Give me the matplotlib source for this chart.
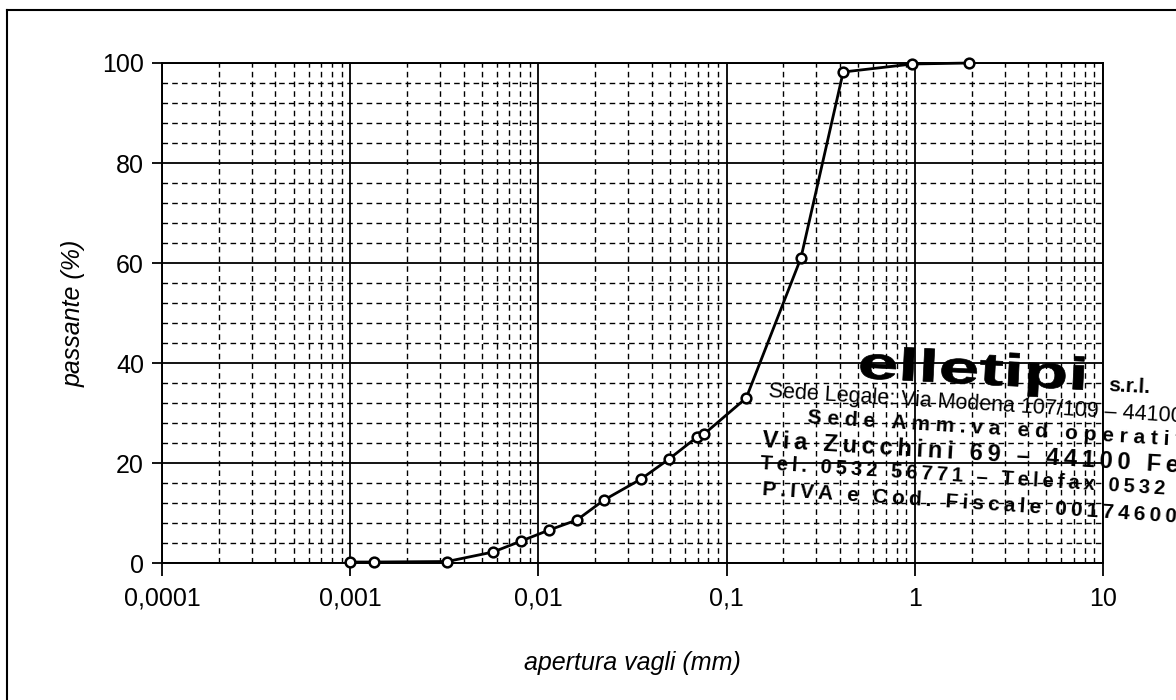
#curva granulometrica - passante vs apertura vagli
import matplotlib.pyplot as plt
from matplotlib.lines import Line2D
from matplotlib.patches import PathPatch
from matplotlib.textpath import TextPath
from matplotlib.font_manager import FontProperties
from matplotlib.transforms import Affine2D
from matplotlib.ticker import FixedLocator, FixedFormatter, NullFormatter

#data
apertura = [0.001, 0.00134, 0.00327, 0.00574, 0.0081, 0.0114, 0.016, 0.0223,
            0.0351, 0.0494, 0.0697, 0.0759, 0.127, 0.248, 0.416, 0.97, 1.95]
passante = [0.2, 0.2, 0.3, 2.2, 4.4, 6.6, 8.6, 12.6,
            16.8, 20.8, 25.2, 25.8, 33.0, 61.0, 98.2, 99.8, 100.0]
x_ticks = [0.0001, 0.001, 0.01, 0.1, 1, 10]
x_labels = ['0,0001', '0,001', '0,01', '0,1', '1', '10']
y_ticks = [0, 20, 40, 60, 80, 100]

plt.rcParams['font.family'] = ['Liberation Sans', 'DejaVu Sans']

W, H = 1176, 700

def spaced(s, sep):
    return sep.join(s)

def stamp_line(fig, x, y, s, size, weight, rot):
    #x, y in pixels from top-left, baseline start
    fig.text(x / W, 1 - y / H, s, fontsize=size, fontweight=weight,
             rotation=rot, rotation_mode='anchor', ha='left', va='baseline')

def main():
    fig = plt.figure(figsize=(11.76, 7), dpi=100)
    ax = fig.add_axes([0.1378, 0.1957, 0.8002, 0.7143])

    #log axis
    ax.set_xscale('log')
    ax.set_xlim(0.0001, 10)
    ax.set_ylim(0, 100)

    #grid: minor dashed, major solid
    minor_x = [m * 10.0 ** e for e in range(-4, 1) for m in range(2, 10)]
    minor_y = [v for v in range(0, 101, 4) if v % 20 != 0]
    for xv in minor_x:
        ax.axvline(xv, color='black', lw=1.0, ls=(0, (4, 3)), zorder=1)
    for yv in minor_y:
        ax.axhline(yv, color='black', lw=1.0, ls=(0, (4, 3)), zorder=1)
    for xv in x_ticks:
        ax.axvline(xv, color='black', lw=1.3, zorder=1)
    for yv in y_ticks:
        ax.axhline(yv, color='black', lw=1.3, zorder=1)

    #curve
    ax.plot(apertura, passante, color='black', lw=2.0, marker='o',
            markersize=7, markerfacecolor='white', markeredgecolor='black',
            markeredgewidth=1.8, zorder=5, clip_on=False)

    #ticks
    ax.xaxis.set_major_locator(FixedLocator(x_ticks))
    ax.xaxis.set_major_formatter(FixedFormatter(x_labels))
    ax.xaxis.set_minor_formatter(NullFormatter())
    ax.set_yticks(y_ticks)
    ax.tick_params(axis='x', which='major', direction='out', length=9,
                   width=1.3, labelsize=18, pad=8)
    ax.tick_params(axis='x', which='minor', length=0)
    ax.tick_params(axis='y', direction='out', length=7, width=1.3,
                   labelsize=18, pad=6)
    for s in ax.spines.values():
        s.set_linewidth(1.4)

    #labels
    ax.set_xlabel('apertura vagli (mm)', fontsize=18, style='italic', labelpad=29)
    ax.set_ylabel('passante (%)', fontsize=18, style='italic', labelpad=12)

    #stamp logo, stretched wide
    tp = TextPath((0, 0), 'elletipi', size=1,
                  prop=FontProperties(family='Liberation Sans', weight='bold'))
    ext = tp.get_extents()
    sx = 223 / ext.width
    sy = 33 / ext.y1
    tr = Affine2D().translate(-ext.x0, 0).scale(sx, sy).rotate_deg(-3).translate(860, H - 378)
    logo = PathPatch(tr.transform_path(tp), facecolor='black', edgecolor='black', lw=0.5)
    logo.set_transform(Affine2D())
    fig.add_artist(logo)
    stamp_line(fig, 1108, 391, 's.r.l.', 15, 'bold', -3)

    #stamp address lines
    stamp_line(fig, 768, 397, 'Sede Legale: Via Modena 107/109 \u2013 44100 Ferrara',
               15.5, 'normal', -3.5)
    stamp_line(fig, 807, 423, spaced('Sede Amm.va ed operativa', ' '),
               15, 'bold', -3.5)
    stamp_line(fig, 762, 447, spaced('Via Zucchini 69 \u2013 44100 Ferrara', '\u2009'),
               17, 'bold', -3.5)
    stamp_line(fig, 760, 469, spaced('Tel. 0532 56771 \u2013 Telefax 0532 56771', '\u2009'),
               14.5, 'bold', -3.6)
    stamp_line(fig, 762, 495, spaced('P.IVA e Cod. Fiscale 00174600384', '\u2009'),
               15, 'bold', -3.8)

    #page frame
    fig.add_artist(Line2D([0.006, 0.006], [0.0, 0.986], color='black', lw=1.5))
    fig.add_artist(Line2D([0.006, 1.0], [0.986, 0.986], color='black', lw=1.5))

    fig.savefig('out.png', dpi=100, facecolor='white')

main()
